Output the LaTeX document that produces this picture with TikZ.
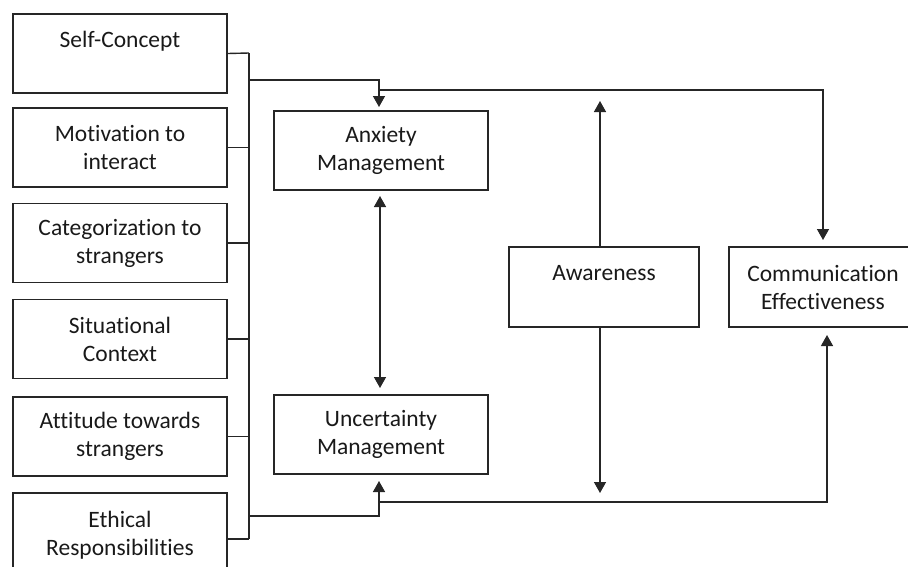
\documentclass[tikz,border=0pt]{standalone}
\usepackage{fontspec}
\setmainfont{Carlito}[Ligatures=NoCommon]
\usetikzlibrary{arrows.meta}
\begin{document}
\begin{tikzpicture}[x=1pt,y=-1pt,
  box/.style={draw=black!85,line width=1.4pt,minimum width=214pt,minimum height=79pt,
    align=center,inner sep=2pt,font=\fontsize{23.5}{28}\selectfont,text=black!90},
  link/.style={draw=black!85,line width=1.4pt},
  arr/.style={link,-{Triangle[width=12pt,length=11pt]}},
  darr/.style={link,{Triangle[width=12pt,length=11pt]}-{Triangle[width=12pt,length=11pt]}}]
\useasboundingbox (0,0) rectangle (908,566);
\clip (0,0) rectangle (908,566);
% left boxes
\node[box] (sc) at (120,53.5) {Self-Concept\\\mbox{}};
\node[box] (mi) at (120,147.5) {Motivation to\\interact};
\node[box] (cs) at (120,243) {Categorization to\\strangers};
\node[box] (sx) at (120,339) {Situational\\Context};
\node[box] (at) at (120,436.5) {Attitude towards\\strangers};
\node[box,minimum height=84pt] (er) at (120,535) {Ethical\\Responsibilities};
% middle boxes
\node[box] (am) at (381,150.5) {Anxiety\\Management};
\node[box] (um) at (381,434.5) {Uncertainty\\Management};
\node[box,minimum width=190pt,minimum height=80pt] (aw) at (604,287) {Awareness\\\mbox{}};
\node[box,minimum width=188pt,minimum height=80pt] (ce) at (823,287) {Communication\\Effectiveness};
% bus
\coordinate (bt) at (249,53);
\coordinate (bb) at (249,539);
\coordinate (b1) at (249,80);
\coordinate (b2) at (249,516);
\draw[link] (bt) -- (bb);
\draw[link] (sc.east) -- (bt);
\draw[link] (mi.east) -- (mi.east -| bt);
\draw[link] (cs.east) -- (cs.east -| bt);
\draw[link] (sx.east) -- (sx.east -| bt);
\draw[link] (at.east) -- (at.east -| bt);
\draw[link] (er.east |- bb) -- (bb);
% branches to anxiety / uncertainty
\coordinate (ja) at (379,90);
\coordinate (ju) at (379,502);
\draw[link] (b1) -- (379,80) -- (ja);
\draw[arr] (ja) -- (379,107);
\draw[link] (b2) -- (379,516) -- (ju);
\draw[arr] (ju) -- (379,481);
% top line to communication effectiveness
\draw[arr] (ja) -- (823,90) -- (823,240);
% bottom line to communication effectiveness
\draw[arr] (ju) -- (827,502) -- (827,335);
% anxiety <-> uncertainty
\draw[darr] (380,196) -- (380,388);
% awareness arrows
\draw[arr] ([xshift=-4pt]aw.north) -- (600,101);
\draw[arr] ([xshift=-4pt]aw.south) -- (600,493);
\end{tikzpicture}
\end{document}
